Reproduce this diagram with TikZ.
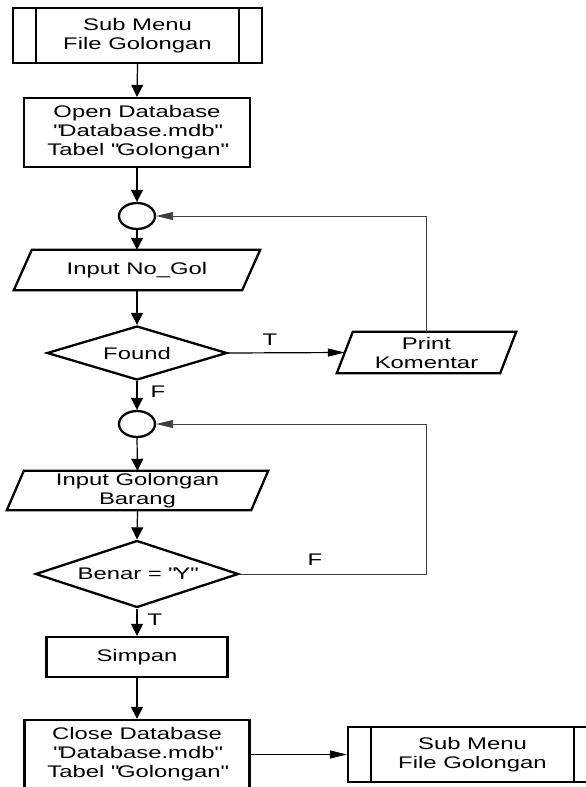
\documentclass[tikz,border=0pt]{standalone}
\usepackage{fontspec}
\setmainfont{Liberation Sans}[FakeStretch=1.42]
\usepackage{tikz}
\usetikzlibrary{shapes.geometric}
\usetikzlibrary{arrows.meta}

\begin{document}
\begin{tikzpicture}[x=1pt,y=-1pt,
		font=\fontsize{16.8}{19}\selectfont,
		garis/.style={line width=2.3pt},
		kotak/.style={draw,garis,rectangle,inner sep=0pt,align=center},
		jajar/.style={rectangle,inner sep=0pt,align=center},
		keputusan/.style={draw,garis,diamond,aspect=3,inner sep=0pt},
		sambung/.style={draw,garis,ellipse,minimum width=36,minimum height=26,inner sep=0pt},
		alir/.style={line width=1.2pt,-{Triangle[length=12pt,width=12pt]}},
		alirh/.style={line width=1.2pt,-{Triangle[length=17pt,width=8pt]}},
		balik/.style={line width=0.9pt,draw=black!75,-{Triangle[length=17pt,width=8pt]}}]
				\useasboundingbox (0,0) rectangle (586,787);
				%Nodes
				\node[kotak,minimum width=249,minimum height=55] (menu1) at (137.5,35.5) {Sub Menu\\File Golongan};
				\node[kotak,minimum width=226,minimum height=69] (buka) at (137,132.5) {Open Database\\\textquotedbl Database.mdb\textquotedbl\\Tabel \textquotedbl Golongan\textquotedbl};
				\node[sambung] (c1) at (137,216) {};
				\node[jajar,minimum width=228,minimum height=40] (input1) at (137,270) {Input No\_Gol};
				\node[keputusan,minimum width=180,minimum height=54] (found) at (137,353) {Found};
				\node[jajar,minimum width=163,minimum height=41] (cetak) at (426.5,352.5) {Print\\Komentar};
				\node[sambung] (c2) at (137,424) {};
				\node[jajar,minimum width=244,minimum height=39] (input2) at (137.5,490.5) {Input Golongan\\Barang};
				\node[keputusan,minimum width=203,minimum height=67] (benar) at (137,574) {Benar = \textquotedbl Y\textquotedbl};
				\node[kotak,minimum width=181,minimum height=40] (simpan) at (137,657) {Simpan};
				\node[kotak,minimum width=225,minimum height=69] (tutup) at (137,754.5) {Close Database\\\textquotedbl Database.mdb\textquotedbl\\Tabel \textquotedbl Golongan\textquotedbl};
				\node[kotak,minimum width=249,minimum height=55] (menu2) at (472.5,754.5) {Sub Menu\\File Golongan};
				\node 		 (label) at (270,340) {T};
				\node 		 (label) at (158,392) {F};
				\node 		 (label) at (315,560) {F};
				\node 		 (label) at (155,620) {T};

				%Shapes
				\draw[garis] ([xshift=24]menu1.north west) -- ([xshift=24]menu1.south west);
				\draw[garis] ([xshift=-24]menu1.north east) -- ([xshift=-24]menu1.south east);
				\draw[garis] ([xshift=24]menu2.north west) -- ([xshift=24]menu2.south west);
				\draw[garis] ([xshift=-24]menu2.north east) -- ([xshift=-24]menu2.south east);
				\draw[garis] ([xshift=9]input1.north west) -- ([xshift=9]input1.north east) -- ([xshift=-9]input1.south east) -- ([xshift=-9]input1.south west) -- cycle;
				\draw[garis] ([xshift=8]cetak.north west) -- ([xshift=8]cetak.north east) -- ([xshift=-8]cetak.south east) -- ([xshift=-8]cetak.south west) -- cycle;
				\draw[garis] ([xshift=8.5]input2.north west) -- ([xshift=8.5]input2.north east) -- ([xshift=-8.5]input2.south east) -- ([xshift=-8.5]input2.south west) -- cycle;

				%Lines
				\draw[alir] (menu1.south) -- (buka.north);
				\draw[alir] (buka.south) -- (c1.north);
				\draw[alir] (c1.south) -- (input1.north);
				\draw[alir] (input1.south) -- (found.north);
				\draw[alirh] (found.east) -- (cetak.west);
				\draw[balik] (cetak.north) |- (c1.east);
				\draw[alir] (found.south) -- (c2.north);
				\draw[alir] (c2.south) -- (input2.north);
				\draw[alir] (input2.south) -- (benar.north);
				\draw[balik] (benar.east) -- (benar.east -| cetak.north) |- (c2.east);
				\draw[alir] (benar.south) -- (simpan.north);
				\draw[alir] (simpan.south) -- (tutup.north);
				\draw[alirh] (tutup.east |- menu2.west) -- (menu2.west);

		\end{tikzpicture}
\end{document}
